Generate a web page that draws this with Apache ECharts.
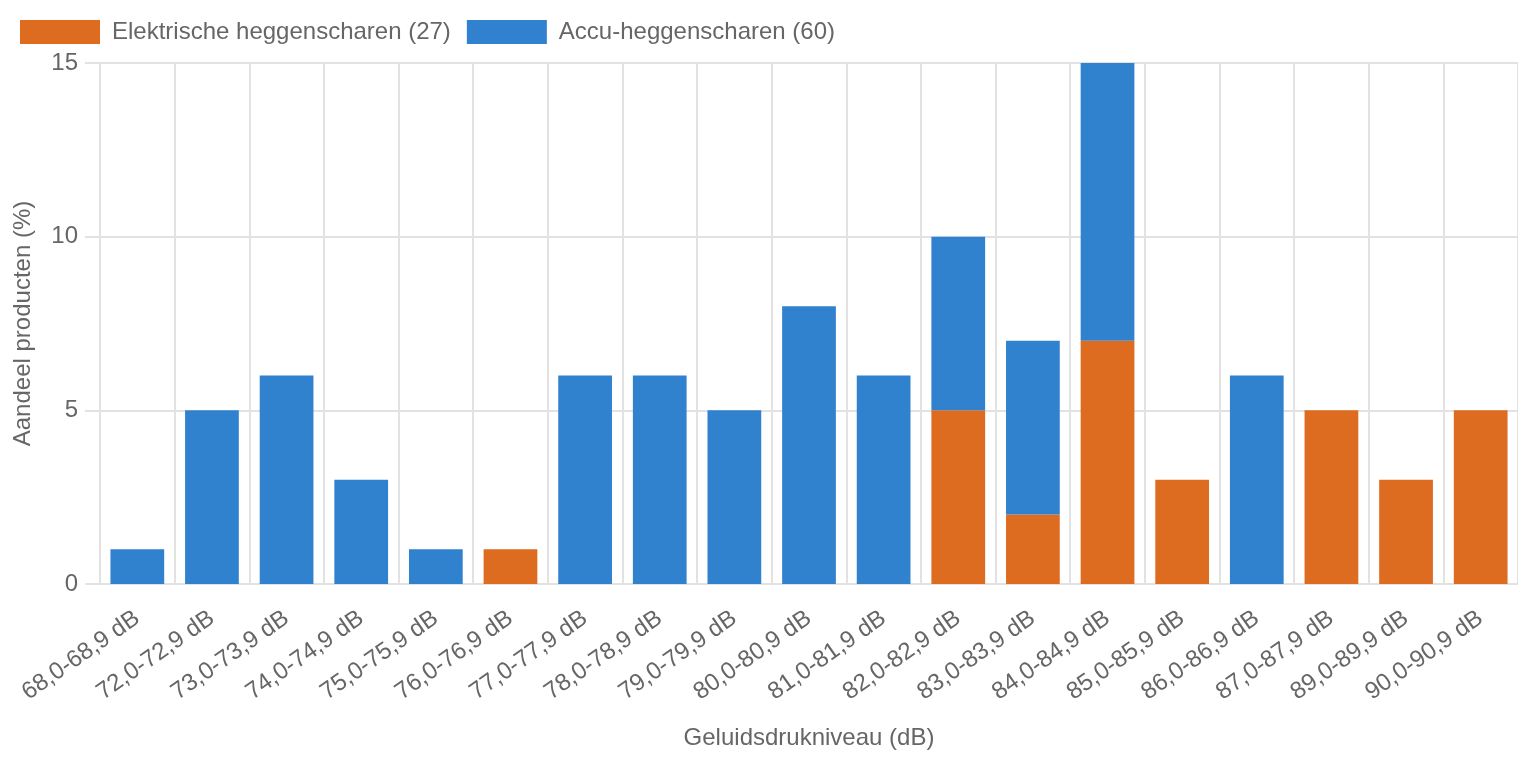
<!DOCTYPE html>
<html>
<head>
<meta charset="utf-8">
<script src="https://cdn.jsdelivr.net/npm/echarts@6/dist/echarts.min.js"></script>
<style>
  html, body { margin: 0; padding: 0; background: #fff; }
  #main { width: 1518px; height: 758px; }
</style>
</head>
<body>
<div id="main"></div>
<script>
// categorieën (geluidsdrukniveau)
const categories = ['68,0-68,9 dB', '72,0-72,9 dB', '73,0-73,9 dB', '74,0-74,9 dB', '75,0-75,9 dB',
  '76,0-76,9 dB', '77,0-77,9 dB', '78,0-78,9 dB', '79,0-79,9 dB', '80,0-80,9 dB', '81,0-81,9 dB',
  '82,0-82,9 dB', '83,0-83,9 dB', '84,0-84,9 dB', '85,0-85,9 dB', '86,0-86,9 dB', '87,0-87,9 dB',
  '89,0-89,9 dB', '90,0-90,9 dB'];
// aandeel producten (%)
const elektrisch = [0, 0, 0, 0, 0, 1, 0, 0, 0, 0, 0, 5, 2, 7, 3, 0, 5, 3, 5];
const accu = [1, 5, 6, 3, 1, 0, 6, 6, 5, 8, 6, 5, 5, 8, 0, 6, 0, 0, 0];
const yTicks = [0, 5, 10, 15];

const font = '"Liberation Sans", Arial, Helvetica, sans-serif';
const textColor = '#666';
const gridColor = '#e2e2e2';

const chart = echarts.init(document.getElementById('main'));
chart.setOption({
  animation: false,
  textStyle: { fontFamily: font },
  legend: {
    left: 15,
    top: 15,
    icon: 'rect',
    itemWidth: 80,
    itemHeight: 24,
    itemGap: 16,
    textStyle: { fontSize: 24, color: textColor, fontFamily: font, padding: [0, 0, 0, 7] },
    data: ['Elektrische heggenscharen (27)', 'Accu-heggenscharen (60)']
  },
  grid: { left: 100, right: 0, top: 63, bottom: 174, outerBoundsMode: 'none' },
  xAxis: {
    type: 'category',
    data: categories,
    name: 'Geluidsdrukniveau (dB)',
    nameLocation: 'middle',
    nameGap: 142,
    nameTextStyle: { fontSize: 24, color: textColor },
    axisLine: { lineStyle: { color: gridColor, width: 2 } },
    axisTick: { length: 14, lineStyle: { color: gridColor, width: 2 } },
    splitLine: { show: true, lineStyle: { color: gridColor, width: 2 } },
    axisLabel: { rotate: 35, fontSize: 24, color: textColor, margin: 32, interval: 0 }
  },
  yAxis: {
    type: 'value',
    min: 0,
    max: yTicks[yTicks.length - 1],
    interval: 5,
    name: 'Aandeel producten (%)',
    nameLocation: 'middle',
    nameGap: 65,
    nameTextStyle: { fontSize: 24, color: textColor },
    axisLine: { show: true, lineStyle: { color: gridColor, width: 2 } },
    axisTick: { show: true, length: 15, lineStyle: { color: gridColor, width: 2 } },
    splitLine: { lineStyle: { color: gridColor, width: 2 } },
    axisLabel: { fontSize: 24, color: textColor, margin: 22 }
  },
  series: [
    {
      name: 'Elektrische heggenscharen (27)',
      type: 'bar',
      stack: 'totaal',
      barCategoryGap: '28%',
      itemStyle: { color: '#dd6b20' },
      data: elektrisch
    },
    {
      name: 'Accu-heggenscharen (60)',
      type: 'bar',
      stack: 'totaal',
      barCategoryGap: '28%',
      itemStyle: { color: '#3182ce' },
      data: accu
    }
  ]
});
</script>
</body>
</html>
